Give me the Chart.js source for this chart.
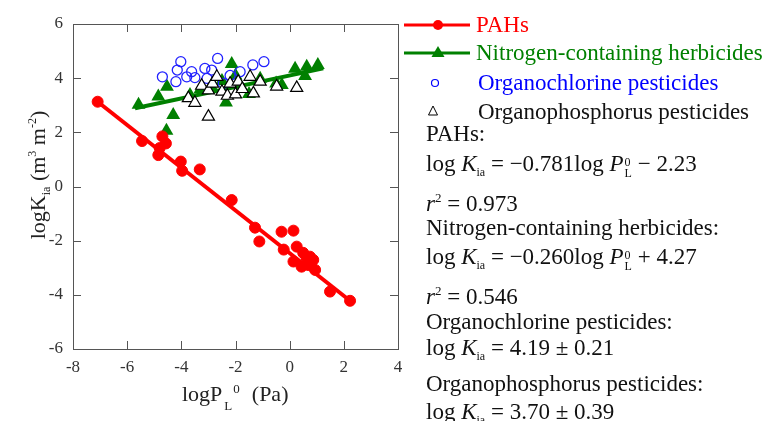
<!DOCTYPE html>
<html><head><meta charset="utf-8">
<script src="https://cdn.jsdelivr.net/npm/chart.js@4"></script>
<style>
html,body{margin:0;padding:0;background:#fff;}
#wrap{position:relative;width:768px;height:421px;overflow:hidden;font-family:"Liberation Serif","DejaVu Serif",serif;color:#111;}
#c{position:absolute;left:0;top:0;}
.t{position:absolute;white-space:nowrap;font-size:23px;line-height:24px;}
.t i{font-style:italic;}
.sb{font-size:12px;vertical-align:-5px;}
.sp{font-size:13px;vertical-align:9px;}
.st{display:inline-block;font-size:12px;line-height:11px;vertical-align:-6px;margin-left:1px;}
.st span{display:block;}
.lg{position:absolute;left:400px;}
</style></head>
<body><div id="wrap">
<canvas id="c" width="768" height="421"></canvas>

<svg class="lg" style="top:15px" width="76" height="20"><line x1="4" y1="10" x2="70" y2="10" stroke="#ff0000" stroke-width="3"/><circle cx="38" cy="10" r="5" fill="#ff0000"/></svg>
<div class="t" style="left:476px;top:13px;color:#ff0000">PAHs</div>
<svg class="lg" style="top:43px" width="76" height="20"><line x1="4" y1="10" x2="70" y2="10" stroke="#008000" stroke-width="3"/><polygon points="38,3 44.5,14 31.5,14" fill="#008000"/></svg>
<div class="t" style="left:476px;top:41px;color:#008000">Nitrogen-containing herbicides</div>
<svg class="lg" style="top:73px" width="76" height="20"><circle cx="35" cy="10" r="3.5" fill="none" stroke="#0000ff" stroke-width="1.2"/></svg>
<div class="t" style="left:478px;top:71px;color:#0000ff">Organochlorine pesticides</div>
<svg class="lg" style="top:101px" width="76" height="20"><polygon points="33,5 37.5,14 28.5,14" fill="none" stroke="#000" stroke-width="1"/></svg>
<div class="t" style="left:478px;top:100px">Organophosphorus pesticides</div>

<div class="t" style="left:426px;top:122px">PAHs:</div>
<div class="t" style="left:426px;top:152px">log <i>K</i><span class="sb">ia</span> = −0.781log <i>P</i><span class="st"><span>0</span><span>L</span></span> − 2.23</div>
<div class="t" style="left:426px;top:186px"><i>r</i><span class="sp">2</span> = 0.973</div>
<div class="t" style="left:426px;top:216px">Nitrogen-containing herbicides:</div>
<div class="t" style="left:426px;top:245px">log <i>K</i><span class="sb">ia</span> = −0.260log <i>P</i><span class="st"><span>0</span><span>L</span></span> + 4.27</div>
<div class="t" style="left:426px;top:279px"><i>r</i><span class="sp">2</span> = 0.546</div>
<div class="t" style="left:426px;top:310px">Organochlorine pesticides:</div>
<div class="t" style="left:426px;top:336px">log <i>K</i><span class="sb">ia</span> = 4.19 ± 0.21</div>
<div class="t" style="left:426px;top:372px">Organophosphorus pesticides:</div>
<div class="t" style="left:426px;top:400px">log <i>K</i><span class="sb">ia</span> = 3.70 ± 0.39</div>

<div class="t" style="font-size:22px;color:#222;left:-48px;top:163px;width:160px;text-align:center;transform:rotate(-90deg);transform-origin:80px 12px;">logK<span class="sb" style="font-size:12px">ia</span> (m<span class="sp" style="font-size:12px">3</span> m<span class="sp" style="font-size:12px">-2</span>)</div>
<div class="t" style="font-size:22px;color:#222;left:182px;top:377px;">logP<span class="sb" style="font-size:13px;vertical-align:-9px;margin-left:2px">L</span><span class="sp" style="font-size:13px;vertical-align:8px;margin-left:1px">0</span><span style="margin-left:12px">(Pa)</span></div>
</div>
<script>
// ---- data ----
const xTicks = [-8, -6, -4, -2, 0, 2, 4];
const yTicks = [-6, -4, -2, 0, 2, 4, 6];

const pahX = [-7.09, -5.45, -4.70, -4.57, -4.80, -4.85, -4.02, -3.97, -3.32, -2.14, -1.28, -1.12, -0.30, 0.14, -0.22, 0.26, 0.14, 0.50, 0.63, 0.75, 0.87, 0.44, 0.69, 0.94, 1.49, 2.23];
const pahY = [3.13, 1.68, 1.85, 1.59, 1.42, 1.16, 0.92, 0.58, 0.63, -0.50, -1.52, -2.03, -1.67, -1.63, -2.33, -2.22, -2.77, -2.45, -2.65, -2.59, -2.71, -2.96, -2.90, -3.08, -3.88, -4.22];
const pahLineX = [-7.09, 2.23];
const pahLineY = [3.13, -4.22];

const nchX = [-5.58, -4.85, -4.53, -4.30, -4.55, -3.68, -3.30, -2.90, -2.50, -2.14, -2.35, -2.00, -1.80, -1.50, -1.09, -0.50, -0.29, 0.20, 0.57, 0.63, 1.04];
const nchY = [3.02, 3.32, 3.68, 2.64, 2.06, 3.38, 3.58, 3.70, 3.90, 4.52, 3.10, 4.10, 3.70, 3.42, 3.98, 3.80, 3.75, 4.35, 4.08, 4.42, 4.49];
const nchLineX = [-5.71, 1.24];
const nchLineY = [2.89, 4.36];

const ocpX = [-4.70, -4.20, -4.15, -4.02, -3.80, -3.62, -3.50, -3.13, -3.05, -2.88, -2.66, -2.45, -2.20, -1.83, -1.36, -0.95];
const ocpY = [4.05, 3.87, 4.30, 4.61, 4.05, 4.24, 4.02, 4.36, 3.99, 4.30, 4.73, 3.81, 4.10, 4.24, 4.49, 4.61];

const oppX = [-3.74, -3.50, -3.00, -3.25, -3.00, -2.85, -2.69, -2.50, -2.30, -2.20, -2.00, -1.90, -1.75, -1.46, -1.34, -1.09, -0.48, 0.26];
const oppY = [3.26, 3.09, 2.58, 3.72, 3.55, 3.80, 4.05, 3.50, 3.35, 3.80, 3.40, 3.87, 3.60, 4.05, 3.44, 3.87, 3.69, 3.64];

const pts = (xs, ys) => xs.map((x, i) => ({x, y: ys[i]}));

const frameTicks = {
  id: 'frameTicks',
  beforeDatasetsDraw(chart) {
    const {ctx, chartArea: a, scales} = chart;
    ctx.save();
    ctx.strokeStyle = '#555';
    ctx.lineWidth = 1;
    ctx.strokeRect(Math.round(a.left) + 0.5, Math.round(a.top) + 0.5, Math.round(a.right - a.left), Math.round(a.bottom - a.top));
    ctx.beginPath();
    const L = 8;
    xTicks.forEach(v => {
      const p = Math.round(scales.x.getPixelForValue(v)) + 0.5;
      ctx.moveTo(p, a.bottom); ctx.lineTo(p, a.bottom - L);
      ctx.moveTo(p, a.top); ctx.lineTo(p, a.top + L);
    });
    yTicks.forEach(v => {
      const p = Math.round(scales.y.getPixelForValue(v)) + 0.5;
      ctx.moveTo(a.left, p); ctx.lineTo(a.left + L, p);
      ctx.moveTo(a.right, p); ctx.lineTo(a.right - L, p);
    });
    ctx.stroke();
    ctx.restore();
  }
};

const tickFont = {family: '"Liberation Serif", serif', size: 17};

new Chart(document.getElementById('c'), {
  type: 'scatter',
  data: {
    datasets: [
      {label: 'PAHs fit', data: pts(pahLineX, pahLineY), showLine: true, borderColor: '#ff0000', borderWidth: 4, pointRadius: 0, order: 1},
      {label: 'PAHs', data: pts(pahX, pahY), backgroundColor: '#ff0000', borderColor: '#ff0000', pointRadius: 5.5, pointStyle: 'circle', order: 0},
      {label: 'Nitrogen fit', data: pts(nchLineX, nchLineY), showLine: true, borderColor: '#008000', borderWidth: 4, pointRadius: 0, order: 5},
      {label: 'Nitrogen-containing herbicides', data: pts(nchX, nchY), backgroundColor: '#008000', borderColor: '#008000', borderWidth: 0, pointRadius: 8, pointStyle: 'triangle', order: 4},
      {label: 'Organochlorine pesticides', data: pts(ocpX, ocpY), backgroundColor: 'rgba(0,0,0,0)', borderColor: '#2222ff', borderWidth: 1.3, pointRadius: 5, pointStyle: 'circle', order: 3},
      {label: 'Organophosphorus pesticides', data: pts(oppX, oppY), backgroundColor: '#ffffff', borderColor: '#000000', borderWidth: 1.2, pointRadius: 7, pointStyle: 'triangle', order: 2}
    ]
  },
  options: {
    responsive: false,
    animation: false,
    devicePixelRatio: 1,
    layout: {padding: {left: 0, top: 24, right: 370, bottom: 0}},
    plugins: {legend: {display: false}, tooltip: {enabled: false}},
    scales: {
      x: {
        type: 'linear', min: -8, max: 4,
        afterBuildTicks: s => { s.ticks = xTicks.map(v => ({value: v})); },
        afterFit: s => { s.height = 72; },
        grid: {display: false, drawTicks: false},
        border: {display: false},
        ticks: {font: tickFont, color: '#333', padding: 8, maxRotation: 0}
      },
      y: {
        type: 'linear', min: -6, max: 6,
        afterBuildTicks: s => { s.ticks = yTicks.map(v => ({value: v})); },
        afterFit: s => { s.width = 73; },
        grid: {display: false, drawTicks: false},
        border: {display: false},
        ticks: {font: tickFont, color: '#333', padding: 10}
      }
    }
  },
  plugins: [frameTicks]
});
</script>
</body></html>
